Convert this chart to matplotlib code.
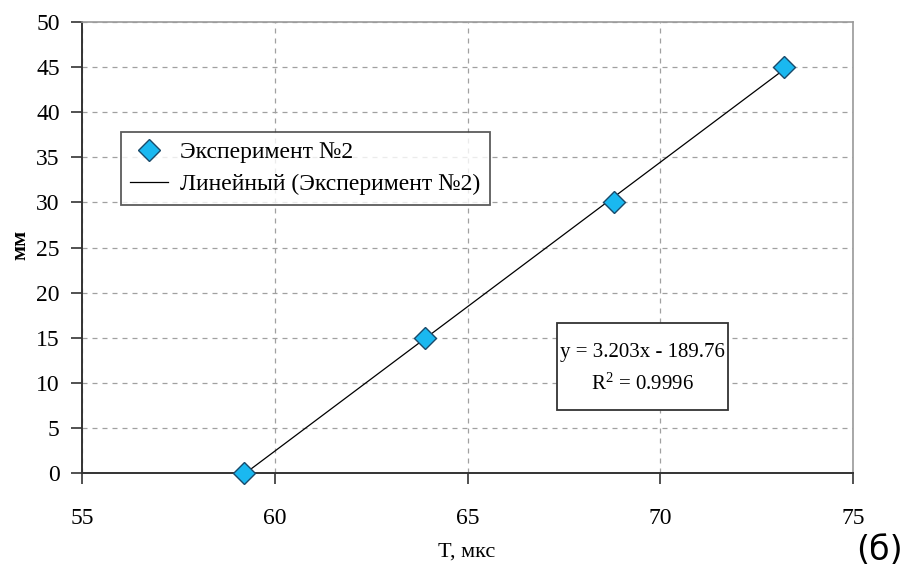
import matplotlib
matplotlib.use("Agg")
import matplotlib.pyplot as plt
from matplotlib.patches import Rectangle
import numpy as np

# Experiment No.2: time of flight vs distance
t_us = [59.2, 63.9, 68.8, 73.2]
dist_mm = [0, 15, 30, 45]

# Linear trend reported by the fit
slope = 3.203
intercept = -189.76
r2 = 0.9996

x_ticks = [55, 60, 65, 70, 75]
y_ticks = [0, 5, 10, 15, 20, 25, 30, 35, 40, 45, 50]

serif = "Liberation Serif"
W, H = 912, 573
x0, x1, y0, y1 = 82, 853, 22, 473  # plot area in pixels

fig = plt.figure(figsize=(W / 100, H / 100), dpi=100)
ax = fig.add_axes([x0 / W, 1 - y1 / H, (x1 - x0) / W, (y1 - y0) / H])


def ax_frac(px, py):
    return (px - x0) / (x1 - x0), (y1 - py) / (y1 - y0)


ax.set_xlim(55, 75)
ax.set_ylim(0, 50)
ax.set_xticks(x_ticks)
ax.set_yticks(y_ticks)

# grid: grey dashed
ax.grid(True, color="#a0a0a0", linestyle=(0, (4, 4)), linewidth=0.9)
ax.set_axisbelow(True)

# trend line over the data range
xt = np.array([min(t_us), max(t_us)])
ax.plot(xt, slope * xt + intercept, color="black", linewidth=0.9,
        label="Линейный (Эксперимент №2)", zorder=3)

ax.plot(t_us, dist_mm, linestyle="none", marker="D", markersize=11,
        markerfacecolor="#1ab8f0", markeredgecolor="#1a4a6a", markeredgewidth=1.0,
        label="Эксперимент №2", zorder=4, clip_on=False)

for side in ("top", "right"):
    ax.spines[side].set_color("#9a9a9a")
    ax.spines[side].set_linewidth(1.2)
for side in ("left", "bottom"):
    ax.spines[side].set_color("#333333")
    ax.spines[side].set_linewidth(1.4)

ax.tick_params(axis="both", direction="out", length=8, width=1.2, color="#333333",
               labelsize=17)
ax.tick_params(axis="x", pad=17)
ax.tick_params(axis="y", pad=8)
for lbl in ax.get_xticklabels() + ax.get_yticklabels():
    lbl.set_fontfamily(serif)

ax.set_xlabel("T, мкс", fontfamily=serif, fontsize=16)
ax.xaxis.set_label_coords(*ax_frac(467, 552))
ax.xaxis.label.set_va("center")
ax.set_ylabel("мм", fontfamily=serif, fontsize=16, fontweight="bold")
ax.yaxis.set_label_coords(*ax_frac(20, 245))
ax.yaxis.label.set_va("center")

handles, labels = ax.get_legend_handles_labels()
leg = ax.legend(handles[::-1], labels[::-1], loc="upper left",
                bbox_to_anchor=ax_frac(121, 132),
                prop={"family": serif, "size": 17}, frameon=True, fancybox=False,
                edgecolor="#333333", handlelength=1.6, borderpad=0.4,
                labelspacing=0.45, handletextpad=0.5, borderaxespad=0)
leg.get_frame().set_linewidth(1.3)

# equation box
bx0, by0 = ax_frac(557, 410)
bx1, by1 = ax_frac(728, 323)
ax.add_patch(Rectangle((bx0, by0), bx1 - bx0, by1 - by0, transform=ax.transAxes,
                       facecolor="white", edgecolor="#333333", linewidth=1.3, zorder=5))
ax.text(*ax_frac(642, 353), f"y = {slope:.3f}x - {-intercept:.2f}",
        transform=ax.transAxes, fontfamily=serif, fontsize=15,
        ha="center", va="center", zorder=6)
ax.text(*ax_frac(642, 384), f"$\\mathregular{{R^2}}$ = {r2:.4f}",
        transform=ax.transAxes, fontfamily=serif, fontsize=15,
        ha="center", va="center", zorder=6)

fig.text(0.99, 0.01, "(б)", fontfamily="DejaVu Sans", fontsize=24, ha="right", va="bottom")

fig.savefig("out.png", dpi=100)
